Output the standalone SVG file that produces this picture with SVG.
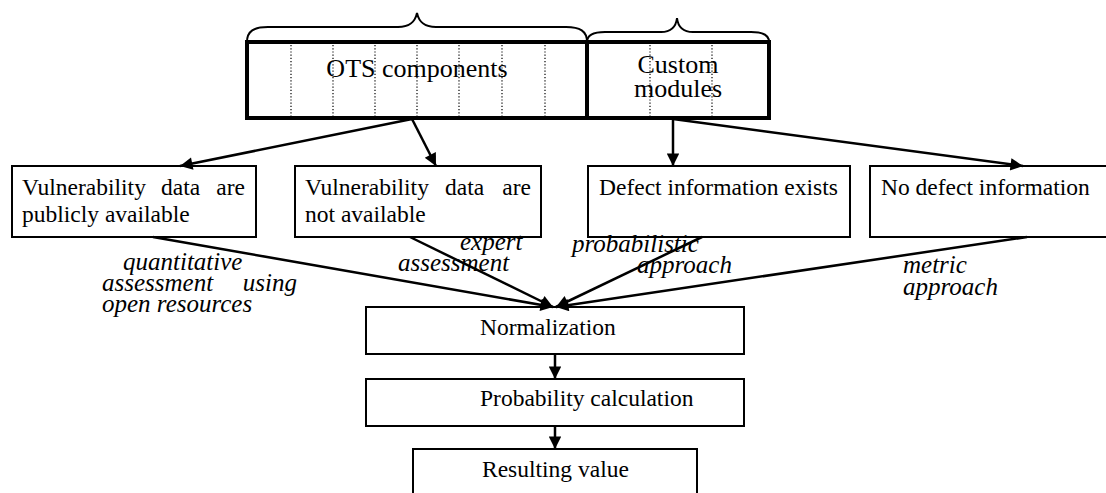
<svg xmlns="http://www.w3.org/2000/svg" width="1106" height="493" viewBox="0 0 1106 493">
<defs>
<style>
.box{fill:#fff;stroke:#000;stroke-width:2}
.thick{fill:none;stroke:#000;stroke-width:4}
.dot{stroke:#000;stroke-width:1.2;stroke-dasharray:1.2 2}
.brace{fill:none;stroke:#000;stroke-width:2}
.t{font-family:"Liberation Serif","Times New Roman",serif;font-size:23.5px;fill:#000}
.big{font-family:"Liberation Serif","Times New Roman",serif;font-size:26px;fill:#000}
.lab{font-family:"Liberation Serif","Times New Roman",serif;font-size:25px;font-style:italic;fill:#000}
.c{fill:none;stroke:#000;stroke-width:2.5}
</style>
<marker id="ah" viewBox="0 0 10 10" refX="10" refY="5" markerWidth="6" markerHeight="5" markerUnits="strokeWidth" orient="auto">
<path d="M0,0 L10,5 L0,10 z" fill="#000"/>
</marker>
</defs>
<rect width="1106" height="493" fill="#fff"/>

<g id="ots">
<rect x="247" y="42" width="340" height="76" fill="#fff"/>
<line class="dot" x1="291" y1="45" x2="291" y2="116"/>
<line class="dot" x1="333" y1="45" x2="333" y2="116"/>
<line class="dot" x1="375" y1="45" x2="375" y2="116"/>
<line class="dot" x1="417" y1="45" x2="417" y2="116"/>
<line class="dot" x1="459" y1="45" x2="459" y2="116"/>
<line class="dot" x1="502" y1="45" x2="502" y2="116"/>
<line class="dot" x1="545" y1="45" x2="545" y2="116"/>
<rect class="thick" x="247" y="42" width="340" height="76"/>
<path class="brace" d="M247,42 C247,31 254,27 268,27 L398,27 C410,27 415,22 417,13 C419,22 424,27 436,27 L566,27 C580,27 587,31 587,42"/>
<text class="big" x="417" y="77" text-anchor="middle">OTS components</text>
</g>

<g id="custom">
<line class="dot" x1="650" y1="45" x2="650" y2="116"/>
<line class="dot" x1="712" y1="45" x2="712" y2="116"/>
<rect class="thick" x="587" y="42" width="182" height="76"/>
<path class="brace" d="M587,42 C587,35 593,32 605,32 L661,32 C671,32 676,27 677,18 C678,27 683,32 693,32 L751,32 C763,32 769,35 769,42"/>
<text class="big" x="678" y="73" text-anchor="middle">Custom</text>
<text class="big" x="678" y="97" text-anchor="middle">modules</text>
</g>

<g id="vuln-public">
<rect class="box" x="12" y="166" width="244" height="71"/>
<text class="t" y="195"><tspan x="22">Vulnerability</tspan><tspan x="161">data</tspan><tspan x="245" text-anchor="end">are</tspan></text>
<text class="t" x="22" y="222">publicly available</text>
</g>

<g id="vuln-none">
<rect class="box" x="295" y="166" width="246" height="71"/>
<text class="t" y="195"><tspan x="305">Vulnerability</tspan><tspan x="445">data</tspan><tspan x="531" text-anchor="end">are</tspan></text>
<text class="t" x="305" y="222">not available</text>
</g>

<g id="defect-exists">
<rect class="box" x="588" y="166" width="262" height="71"/>
<text class="t" x="599" y="195">Defect information exists</text>
</g>

<g id="no-defect">
<rect class="box" x="870" y="166" width="250" height="71"/>
<text class="t" x="881" y="195">No defect information</text>
</g>

<g id="normalization">
<rect class="box" x="366" y="307" width="378" height="47"/>
<text class="t" x="480" y="335">Normalization</text>
</g>

<g id="probability">
<rect class="box" x="366" y="379" width="378" height="47"/>
<text class="t" x="480" y="406">Probability calculation</text>
</g>

<g id="result">
<rect class="box" x="413" y="449" width="284" height="60"/>
<text class="t" x="482" y="477">Resulting value</text>
</g>

<g id="connectors">
<line class="c" x1="412" y1="119" x2="180" y2="166" marker-end="url(#ah)"/>
<line class="c" x1="412" y1="119" x2="436" y2="166" marker-end="url(#ah)"/>
<line class="c" x1="673" y1="119" x2="673" y2="166" marker-end="url(#ah)"/>
<line class="c" x1="673" y1="119" x2="1023" y2="166" marker-end="url(#ah)"/>
<line class="c" x1="153" y1="237" x2="553" y2="307" marker-end="url(#ah)"/>
<line class="c" x1="410" y1="237" x2="553" y2="307" marker-end="url(#ah)"/>
<line class="c" x1="702" y1="237" x2="556" y2="307" marker-end="url(#ah)"/>
<line class="c" x1="1027" y1="237" x2="556" y2="307" marker-end="url(#ah)"/>
<line class="c" x1="555" y1="354" x2="555" y2="379" marker-end="url(#ah)"/>
<line class="c" x1="555" y1="426" x2="555" y2="449" marker-end="url(#ah)"/>
</g>

<g id="labels">
<text class="lab" x="123" y="270">quantitative</text>
<text class="lab" y="291"><tspan x="102">assessment</tspan><tspan x="297" text-anchor="end">using</tspan></text>
<text class="lab" x="102" y="312">open resources</text>
<text class="lab" x="460" y="250">expert</text>
<text class="lab" x="398" y="271">assessment</text>
<text class="lab" x="572" y="252">probabilistic</text>
<text class="lab" x="637" y="273">approach</text>
<text class="lab" x="903" y="273">metric</text>
<text class="lab" x="903" y="295">approach</text>
</g>
</svg>
